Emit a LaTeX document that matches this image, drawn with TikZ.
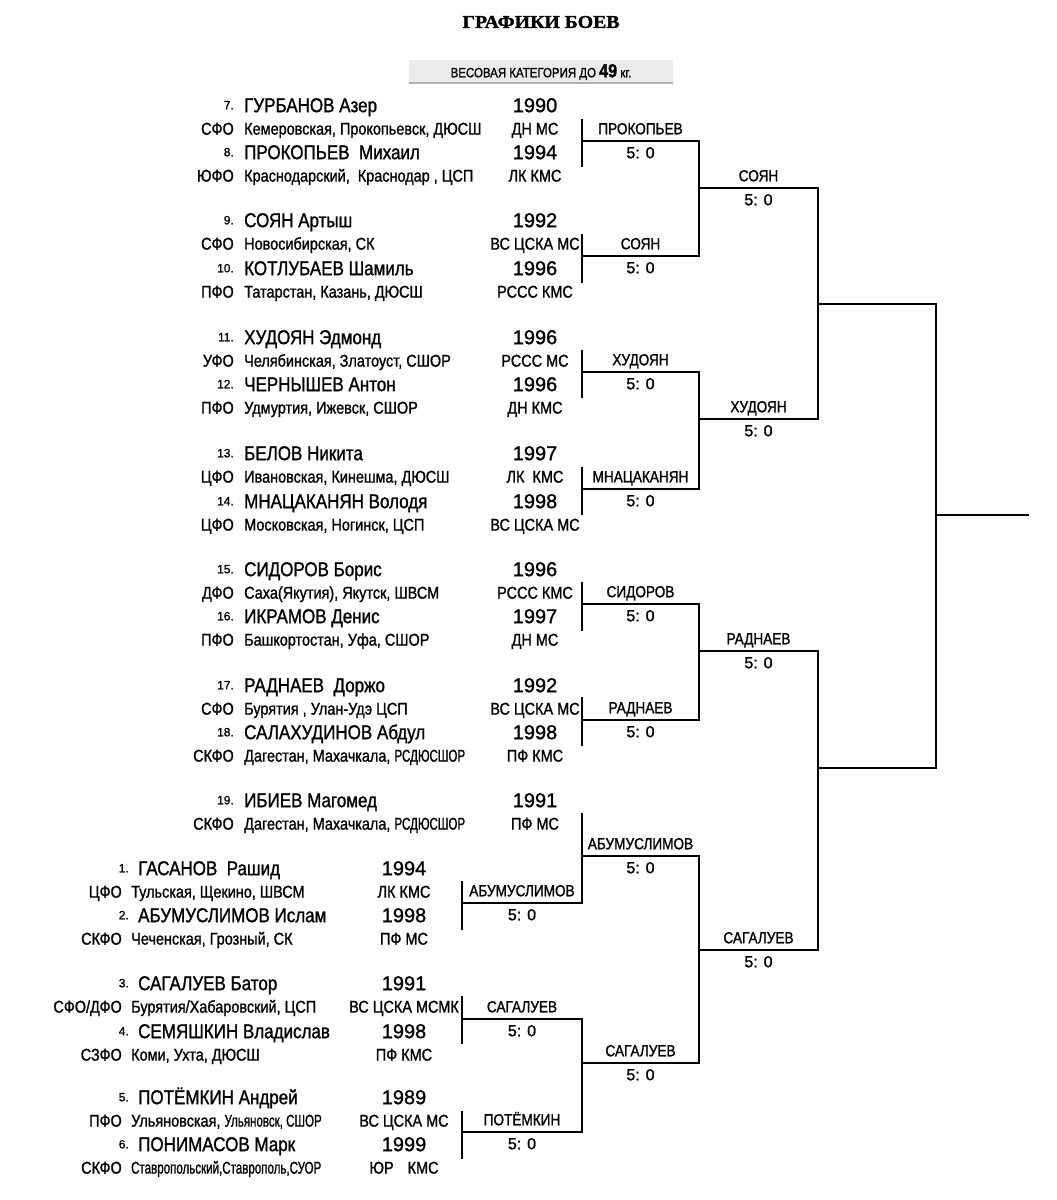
\documentclass[tikz,border=0pt]{standalone}
\usepackage{fontspec}
\setmainfont{Liberation Sans}
\newfontfamily\cf{Liberation Sans}[FakeStretch=0.85, FakeBold=1.2]
\newfontfamily\nf{Liberation Sans}[FakeBold=1.2]
\newfontfamily\tf{Liberation Serif}[FakeStretch=1.1, FakeBold=1.5]
\usetikzlibrary{calc}
\newcommand\fsz[1]{\fontsize{#1}{#1}\selectfont}
\tikzset{
  num/.style={font=\nf\fsz{12}, anchor=east, inner sep=0pt, text height=8.6pt, text depth=0pt},
  nm/.style={font=\cf\fsz{20}, anchor=west, inner sep=0pt, text height=14.3pt, text depth=0pt},
  yr/.style={font=\nf\fsz{20}, inner sep=0pt, text height=14.3pt, text depth=0pt},
  reg/.style={font=\cf\fsz{17}, anchor=east, inner sep=0pt, text height=12.2pt, text depth=0pt},
  city/.style={font=\cf\fsz{17}, anchor=west, inner sep=0pt, text height=12.2pt, text depth=0pt},
  rank/.style={font=\cf\fsz{17}, inner sep=0pt, text height=12.2pt, text depth=0pt},
  win/.style={font=\cf\fsz{16}, inner sep=0pt, text height=11.5pt, text depth=0pt},
  score/.style={font=\nf\fsz{16}, inner sep=0pt, text height=11.5pt, text depth=0pt},
  br/.style={line width=1.6pt, line cap=rect}
}
\newcommand\athlete[8]{%
  \node[num] (num#1) at (\xNum,#2) {#3};
  \node[nm] (name#1) at (\xName,#2) {#4};
  \node[yr] (year#1) at (\xYear,#2) {#5};
  \node[reg] (reg#1) at (\xReg,#2+23.5) {#6};
  \node[city] (city#1) at (\xCity,#2+23.5) {#7};
  \node[rank] (rank#1) at (\xYear,#2+23.5) {#8};
}
\newcommand\bracket[6]{%
  \coordinate (#1t) at (#2,#4);
  \coordinate (#1b) at (#2,#5);
  \coordinate (#1s) at (#2,#6);
  \coordinate (#1e) at (#3,#6);
  \draw[br] (#1t) -- (#1b);
  \draw[br] (#1s) -- (#1e);
}
\newcommand\result[2]{%
  \node[win] (#1w) at ($(#1s)!0.5!(#1e)+(0,-12.5)$) {#2};
  \node[score] (#1r) at ($(#1s)!0.5!(#1e)+(0,11.5)$) {5: 0};
}
\newcommand\sq[1]{\scalebox{0.8}[1]{#1}}
\begin{document}
\begin{tikzpicture}[x=1pt,y=-1pt]
\useasboundingbox (0,0) rectangle (1057,1200);
% title
\node[font=\tf\bfseries\fsz{18}, inner sep=0pt] (title) at (541,22) {ГРАФИКИ БОЕВ};
\fill[black!8] (409,60) rectangle (673,83);
\draw[black!30, line width=1.5pt] (409,83) -- (673,83);
\node[font=\cf\fsz{13.5}, inner sep=0pt] (band) at (541,72) {ВЕСОВАЯ КАТЕГОРИЯ ДО {\bfseries\fsz{19}49} кг.};
% top group
\def\xNum{234}\def\xName{244}\def\xYear{535}\def\xReg{234}\def\xCity{244}
\athlete{7}{105}{7.}{ГУРБАНОВ Азер}{1990}{СФО}{Кемеровская, Прокопьевск, ДЮСШ}{ДН МС}
\athlete{8}{152}{8.}{ПРОКОПЬЕВ\ \ Михаил}{1994}{ЮФО}{Краснодарский,\ \ Краснодар , ЦСП}{ЛК КМС}
\athlete{9}{220}{9.}{СОЯН Артыш}{1992}{СФО}{Новосибирская, СК}{ВС ЦСКА МС}
\athlete{10}{268}{10.}{КОТЛУБАЕВ Шамиль}{1996}{ПФО}{Татарстан, Казань, ДЮСШ}{РССС КМС}
\athlete{11}{337}{11.}{ХУДОЯН Эдмонд}{1996}{УФО}{Челябинская, Златоуст, СШОР}{РССС МС}
\athlete{12}{384}{12.}{ЧЕРНЫШЕВ Антон}{1996}{ПФО}{Удмуртия, Ижевск, СШОР}{ДН КМС}
\athlete{13}{453}{13.}{БЕЛОВ Никита}{1997}{ЦФО}{Ивановская, Кинешма, ДЮСШ}{ЛК\ \ КМС}
\athlete{14}{501}{14.}{МНАЦАКАНЯН Володя}{1998}{ЦФО}{Московская, Ногинск, ЦСП}{ВС ЦСКА МС}
\athlete{15}{569}{15.}{СИДОРОВ Борис}{1996}{ДФО}{Саха(Якутия), Якутск, ШВСМ}{РССС КМС}
\athlete{16}{616}{16.}{ИКРАМОВ Денис}{1997}{ПФО}{Башкортостан, Уфа, СШОР}{ДН МС}
\athlete{17}{685}{17.}{РАДНАЕВ\ \ Доржо}{1992}{СФО}{Бурятия , Улан-Удэ ЦСП}{ВС ЦСКА МС}
\athlete{18}{732}{18.}{САЛАХУДИНОВ Абдул}{1998}{СКФО}{Дагестан, Махачкала, \sq{РСДЮСШОР}}{ПФ КМС}
\athlete{19}{800}{19.}{ИБИЕВ Магомед}{1991}{СКФО}{Дагестан, Махачкала, \sq{РСДЮСШОР}}{ПФ МС}
% bottom group
\def\xNum{129}\def\xName{138}\def\xYear{404}\def\xReg{122}\def\xCity{131}
\athlete{1}{868}{1.}{ГАСАНОВ\ \ Рашид}{1994}{ЦФО}{Тульская, Щекино, ШВСМ}{ЛК КМС}
\athlete{2}{915}{2.}{АБУМУСЛИМОВ Ислам}{1998}{СКФО}{Чеченская, Грозный, СК}{ПФ МС}
\athlete{3}{983}{3.}{САГАЛУЕВ Батор}{1991}{СФО/ДФО}{Бурятия/Хабаровский, ЦСП}{ВС ЦСКА МСМК}
\athlete{4}{1031}{4.}{СЕМЯШКИН Владислав}{1998}{СЗФО}{Коми, Ухта, ДЮСШ}{ПФ КМС}
\athlete{5}{1097}{5.}{ПОТЁМКИН Андрей}{1989}{ПФО}{Ульяновская, \sq{Ульяновск, СШОР}}{ВС ЦСКА МС}
\athlete{6}{1144}{6.}{ПОНИМАСОВ Марк}{1999}{СКФО}{\sq{Ставропольский,Ставрополь,СУОР}}{ЮР\hspace{14pt}КМС}
% brackets
\bracket{A}{582}{699}{120}{166}{141}\result{A}{ПРОКОПЬЕВ}
\bracket{B}{582}{699}{235}{282}{256}\result{B}{СОЯН}
\bracket{C}{582}{699}{351}{397}{372}\result{C}{ХУДОЯН}
\bracket{D}{582}{699}{468}{514}{489}\result{D}{МНАЦАКАНЯН}
\bracket{E}{582}{699}{583}{630}{604}\result{E}{СИДОРОВ}
\bracket{F}{582}{699}{698}{745}{720}\result{F}{РАДНАЕВ}
\bracket{H}{462}{582}{882}{929}{903}\result{H}{АБУМУСЛИМОВ}
\bracket{G}{582}{699}{814}{903}{856}\result{G}{АБУМУСЛИМОВ}
\bracket{I}{462}{582}{997}{1043}{1019}\result{I}{САГАЛУЕВ}
\bracket{J}{462}{582}{1112}{1158}{1132}\result{J}{ПОТЁМКИН}
\bracket{K}{582}{699}{1019}{1132}{1063}\result{K}{САГАЛУЕВ}
\bracket{L}{699}{818}{141}{256}{188}\result{L}{СОЯН}
\bracket{M}{699}{818}{372}{489}{419}\result{M}{ХУДОЯН}
\bracket{N}{699}{818}{604}{720}{651}\result{N}{РАДНАЕВ}
\bracket{P}{699}{818}{856}{1063}{950}\result{P}{САГАЛУЕВ}
\bracket{Q}{818}{936}{188}{419}{304}
\bracket{R}{818}{936}{651}{950}{768}
\bracket{S}{936}{1028}{304}{768}{515}
\end{tikzpicture}
\end{document}
